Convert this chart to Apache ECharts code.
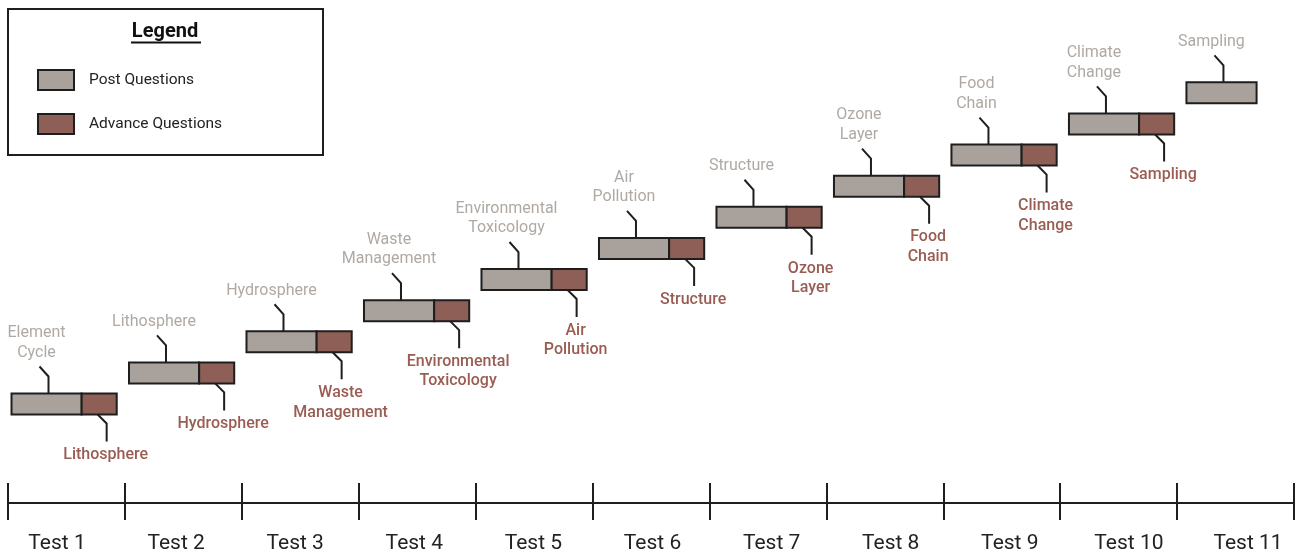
<!DOCTYPE html>
<html>
<head>
<meta charset="utf-8">
<script src="https://cdn.jsdelivr.net/npm/echarts@6/dist/echarts.min.js"></script>
<style>
  html, body { margin: 0; padding: 0; background: #fff; }
  #main { width: 1303px; height: 557px; }
</style>
</head>
<body>
<div id="main"></div>
<script>
// tests along the bottom axis
var tests = ['Test 1', 'Test 2', 'Test 3', 'Test 4', 'Test 5', 'Test 6', 'Test 7', 'Test 8', 'Test 9', 'Test 10', 'Test 11'];

// topic shown above the grey block (post questions)
var postTopics = ['Element\nCycle', 'Lithosphere', 'Hydrosphere', 'Waste\nManagement', 'Environmental\nToxicology',
  'Air\nPollution', 'Structure', 'Ozone\nLayer', 'Food\nChain', 'Climate\nChange', 'Sampling'];
// topic shown below the red block (advance questions), last test has none
var advanceTopics = ['Lithosphere', 'Hydrosphere', 'Waste\nManagement', 'Environmental\nToxicology', 'Air\nPollution',
  'Structure', 'Ozone\nLayer', 'Food\nChain', 'Climate\nChange', 'Sampling'];

// block start (in test units), step level, lengths
var postStart = [0.03, 1.035, 2.04, 3.045, 4.05, 5.055, 6.06, 7.065, 8.07, 9.075, 10.08];
var levels = [1, 2, 3, 4, 5, 6, 7, 8, 9, 10, 11];
var postLen = [0.6, 0.6, 0.6, 0.6, 0.6, 0.6, 0.6, 0.6, 0.6, 0.6, 0.6];
var advanceLen = [0.3, 0.3, 0.3, 0.3, 0.3, 0.3, 0.3, 0.3, 0.3, 0.3];

var GREY = '#a9a29c';
var RED = '#8e5f56';
var GREY_TEXT = '#b0a9a3';
var RED_TEXT = '#9a5d53';
var INK = '#1e1e1e';
var FONT = 'Roboto, "Noto Sans", sans-serif';
var BAR_H = 21;

var postData = postStart.map(function (s, i) {
  return [s, levels[i], postLen[i]];
});
var advanceData = advanceLen.map(function (l, i) {
  return [postStart[i] + postLen[i], levels[i], l];
});

function renderPost(params, api) {
  var i = params.dataIndex;
  var p0 = api.coord([api.value(0), api.value(1)]);
  var p1 = api.coord([api.value(0) + api.value(2), api.value(1)]);
  var top = p0[1] - BAR_H / 2;
  var lx = p0[0] + 37;
  return {
    type: 'group',
    children: [{
      type: 'rect',
      shape: { x: p0[0], y: top, width: p1[0] - p0[0], height: BAR_H },
      style: { fill: GREY, stroke: INK, lineWidth: 2 }
    }, {
      type: 'polyline',
      shape: { points: [[lx, top], [lx, top - 17], [lx - 9, top - 27]] },
      style: { stroke: INK, lineWidth: 2, fill: null }
    }, {
      type: 'text',
      style: {
        text: postTopics[i],
        x: lx - 12, y: top - 31,
        align: 'center', verticalAlign: 'bottom',
        fontFamily: FONT, fontSize: 16, lineHeight: 19.5,
        fill: GREY_TEXT
      }
    }]
  };
}

function renderAdvance(params, api) {
  var i = params.dataIndex;
  var p0 = api.coord([api.value(0), api.value(1)]);
  var p1 = api.coord([api.value(0) + api.value(2), api.value(1)]);
  var top = p0[1] - BAR_H / 2;
  var bottom = top + BAR_H;
  var lx = p0[0] + 16;
  return {
    type: 'group',
    children: [{
      type: 'rect',
      shape: { x: p0[0], y: top, width: p1[0] - p0[0], height: BAR_H },
      style: { fill: RED, stroke: INK, lineWidth: 2 }
    }, {
      type: 'polyline',
      shape: { points: [[lx, bottom], [lx + 9, bottom + 9], [lx + 9, bottom + 27]] },
      style: { stroke: INK, lineWidth: 2, fill: null }
    }, {
      type: 'text',
      style: {
        text: advanceTopics[i],
        x: lx + 8, y: bottom + 31,
        align: 'center', verticalAlign: 'top',
        fontFamily: FONT, fontSize: 16, fontWeight: 500, lineHeight: 19.5,
        fill: RED_TEXT
      }
    }]
  };
}

var chart = echarts.init(document.getElementById('main'), null, { renderer: 'canvas' });

var option = {
  backgroundColor: '#fff',
  animation: false,
  grid: [
    { left: 8, right: 9, top: 10, bottom: 54, containLabel: false },
    // the test names sit a little off the tick centres, so they get their own strip
    { left: 57, right: 55, top: 10, bottom: 54, containLabel: false }
  ],
  graphic: [{
    type: 'rect',
    shape: { x: 8, y: 9, width: 315, height: 146 },
    style: { fill: '#fff', stroke: INK, lineWidth: 2 },
    z: -1
  }, {
    type: 'text',
    style: {
      text: 'Legend', x: 165, y: 32,
      align: 'center', verticalAlign: 'middle',
      fontFamily: FONT, fontSize: 20, fontWeight: 'bold', fill: '#111'
    }
  }, {
    type: 'line',
    shape: { x1: 131, y1: 42.5, x2: 201, y2: 42.5 },
    style: { stroke: '#111', lineWidth: 2 }
  }],
  legend: {
    left: 37, top: 69,
    padding: 0,
    orient: 'vertical',
    itemWidth: 36, itemHeight: 20, itemGap: 22,
    selectedMode: false,
    textStyle: { fontFamily: FONT, fontSize: 15.5, color: '#222', padding: [0, 0, 0, 10] },
    data: [{
      name: 'Post Questions', icon: 'rect',
      itemStyle: { color: GREY, borderColor: INK, borderWidth: 2 }
    }, {
      name: 'Advance Questions', icon: 'rect',
      itemStyle: { color: RED, borderColor: INK, borderWidth: 2 }
    }]
  },
  xAxis: [{
    type: 'category',
    gridIndex: 0,
    data: tests,
    position: 'bottom',
    boundaryGap: true,
    axisLine: { show: true, onZero: false, lineStyle: { color: INK, width: 2 } },
    axisTick: { show: true, length: 17, lineStyle: { color: INK, width: 2 } },
    axisLabel: { show: false },
    splitLine: { show: false }
  }, {
    type: 'category',
    gridIndex: 0,
    data: tests,
    position: 'bottom',
    boundaryGap: true,
    axisLine: { show: true, onZero: false, lineStyle: { color: INK, width: 2 } },
    axisTick: { show: true, inside: true, length: 20, lineStyle: { color: INK, width: 2 } },
    axisLabel: { show: false },
    splitLine: { show: false }
  }, {
    type: 'value',
    gridIndex: 0,
    min: 0, max: 11,
    show: false
  }, {
    type: 'category',
    gridIndex: 1,
    data: tests,
    position: 'bottom',
    boundaryGap: false,
    axisLine: { show: false, onZero: false },
    axisTick: { show: false },
    axisLabel: { fontFamily: FONT, fontSize: 21, color: '#222', margin: 30 },
    splitLine: { show: false }
  }],
  yAxis: [{
    type: 'value',
    gridIndex: 0,
    min: -2.181, max: 13.661,
    show: false
  }, {
    type: 'value',
    gridIndex: 1,
    show: false
  }],
  series: [{
    name: 'Post Questions',
    type: 'custom',
    xAxisIndex: 2,
    yAxisIndex: 0,
    clip: false,
    itemStyle: { color: GREY },
    renderItem: renderPost,
    data: postData
  }, {
    name: 'Advance Questions',
    type: 'custom',
    xAxisIndex: 2,
    yAxisIndex: 0,
    clip: false,
    itemStyle: { color: RED },
    renderItem: renderAdvance,
    data: advanceData
  }]
};

chart.setOption(option);
</script>
</body>
</html>
